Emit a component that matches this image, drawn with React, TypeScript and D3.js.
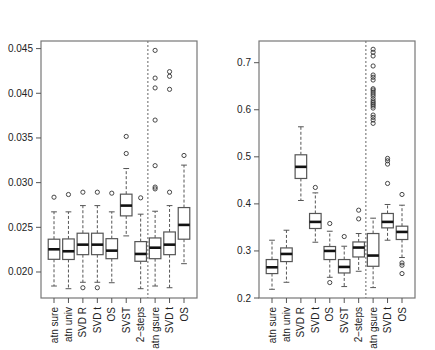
import React from "react";
import * as d3 from "d3";

const categories = ["atn sure", "atn univ", "SVD R", "SVD t", "OS", "SVST", "2\u2212steps", "atn gsure", "SVD t", "OS"];

// [whiskerLow, q1, median, q3, whiskerHigh]
const leftStats = [
  [0.01843, 0.02142, 0.02254, 0.02367, 0.02673],
  [0.01813, 0.0214, 0.02232, 0.0237, 0.02673],
  [0.01885, 0.02194, 0.02306, 0.02434, 0.02743],
  [0.01885, 0.02194, 0.02306, 0.02434, 0.02743],
  [0.0188, 0.02149, 0.02239, 0.02373, 0.02673],
  [0.02404, 0.02628, 0.02743, 0.02871, 0.03158],
  [0.01813, 0.0212, 0.02202, 0.0234, 0.02647],
  [0.01843, 0.02149, 0.02272, 0.02381, 0.0268],
  [0.01824, 0.02194, 0.02306, 0.02448, 0.02743],
  [0.02093, 0.02367, 0.02527, 0.02721, 0.03196],
];
const leftOutliers = [
  [0.02837],
  [0.02867],
  [0.02893, 0.01824],
  [0.02893, 0.01824],
  [0.02882],
  [0.03517, 0.03326],
  [0.0283],
  [0.0448, 0.0417, 0.0406, 0.037, 0.0319, 0.0295, 0.0293],
  [0.02893, 0.04242, 0.0419, 0.04044],
  [0.03304],
];
const leftTicks = [0.02, 0.025, 0.03, 0.035, 0.04, 0.045];
const leftTickLabels = ["0.020", "0.025", "0.030", "0.035", "0.040", "0.045"];

const rightStats = [
  [0.2185, 0.2519, 0.2653, 0.2817, 0.3228],
  [0.2334, 0.2774, 0.2936, 0.3064, 0.344],
  [0.4072, 0.454, 0.4787, 0.5043, 0.5638],
  [0.3185, 0.3477, 0.3617, 0.3796, 0.4234],
  [0.244, 0.2817, 0.3, 0.3094, 0.3419],
  [0.2243, 0.2532, 0.266, 0.2817, 0.31],
  [0.2568, 0.2872, 0.3072, 0.3191, 0.337],
  [0.2221, 0.2674, 0.2902, 0.337, 0.3696],
  [0.3228, 0.349, 0.3617, 0.3796, 0.3987],
  [0.286, 0.3243, 0.3404, 0.3526, 0.3972],
];
const rightOutliers = [
  [],
  [],
  [],
  [0.4349],
  [0.3583, 0.2328],
  [0.3306],
  [0.3866, 0.3681],
  [0.7285, 0.7221, 0.7143, 0.693, 0.6738, 0.669, 0.6632, 0.6447, 0.6419, 0.6377, 0.6334, 0.6291, 0.6234, 0.6185, 0.6149, 0.6115, 0.6079, 0.6036, 0.5887, 0.5838, 0.5781, 0.5711],
  [0.4966, 0.4915, 0.4845, 0.4434],
  [0.42, 0.2745, 0.2696, 0.2519],
];
const rightTicks = [0.2, 0.3, 0.4, 0.5, 0.6, 0.7];
const rightTickLabels = ["0.2", "0.3", "0.4", "0.5", "0.6", "0.7"];

const FONT = "'Liberation Sans', Arial, Helvetica, sans-serif";

type PanelProps = {
  left: number;
  right: number;
  top: number;
  bottom: number;
  domain: [number, number];
  stats: number[][];
  outliers: number[][];
  ticks: number[];
  tickLabels: string[];
};

function Panel({ left, right, top, bottom, domain, stats, outliers, ticks, tickLabels }: PanelProps) {
  const x = d3.scaleLinear().domain([0.1, categories.length + 0.9]).range([left, right]);
  const y = d3.scaleLinear().domain(domain).range([bottom, top]);
  const bw = (x(1) - x(0)) * 0.8;
  const cw = bw * 0.5;
  const stroke = "#555";
  return (
    <g>
      {/* separator */}
      <line x1={x(7.5)} x2={x(7.5)} y1={top} y2={bottom} stroke="#666" strokeDasharray="2,2" strokeWidth={1} />
      {stats.map((s, i) => {
        const cx = x(i + 1);
        const [wl, q1, med, q3, wh] = s;
        return (
          <g key={i}>
            <line x1={cx} x2={cx} y1={y(q3)} y2={y(wh)} stroke={stroke} strokeDasharray="3,2" />
            <line x1={cx} x2={cx} y1={y(q1)} y2={y(wl)} stroke={stroke} strokeDasharray="3,2" />
            <line x1={cx - cw / 2} x2={cx + cw / 2} y1={y(wh)} y2={y(wh)} stroke={stroke} />
            <line x1={cx - cw / 2} x2={cx + cw / 2} y1={y(wl)} y2={y(wl)} stroke={stroke} />
            <rect x={cx - bw / 2} y={y(q3)} width={bw} height={y(q1) - y(q3)} fill="white" stroke={stroke} strokeWidth={1.2} />
            <line x1={cx - bw / 2} x2={cx + bw / 2} y1={y(med)} y2={y(med)} stroke="#111" strokeWidth={2.6} />
            {outliers[i].map((o, j) => (
              <circle key={j} cx={cx} cy={y(o)} r={2.1} fill="none" stroke="#333" strokeWidth={0.9} />
            ))}
          </g>
        );
      })}
      <rect x={left} y={top} width={right - left} height={bottom - top} fill="none" stroke="#777" strokeWidth={1.2} />
      {ticks.map((t, i) => (
        <g key={i}>
          <line x1={left - 5} x2={left} y1={y(t)} y2={y(t)} stroke="#555" />
          <text x={left - 8} y={y(t)} dy="0.35em" textAnchor="end" fontSize={10} fill="#222" fontFamily={FONT}>
            {tickLabels[i]}
          </text>
        </g>
      ))}
      {categories.map((c, i) => {
        const cx = x(i + 1);
        return (
          <g key={i}>
            <line x1={cx} x2={cx} y1={bottom} y2={bottom + 5} stroke="#555" />
            <text
              transform={`translate(${cx},${bottom + 9}) rotate(-90)`}
              dy="0.35em"
              textAnchor="end"
              fontSize={10}
              fill="#222"
              fontFamily={FONT}
            >
              {c}
            </text>
          </g>
        );
      })}
    </g>
  );
}

export default function App() {
  return (
    <svg width={435} height={350} style={{ position: "absolute", left: 0, top: 0, background: "white" }}>
      <rect x={0} y={0} width={435} height={350} fill="white" />
      <Panel
        left={41}
        right={197}
        top={41}
        bottom={298}
        domain={[0.01709, 0.04585]}
        stats={leftStats}
        outliers={leftOutliers}
        ticks={leftTicks}
        tickLabels={leftTickLabels}
      />
      <Panel
        left={259}
        right={415}
        top={41}
        bottom={298}
        domain={[0.2, 0.7461]}
        stats={rightStats}
        outliers={rightOutliers}
        ticks={rightTicks}
        tickLabels={rightTickLabels}
      />
    </svg>
  );
}
